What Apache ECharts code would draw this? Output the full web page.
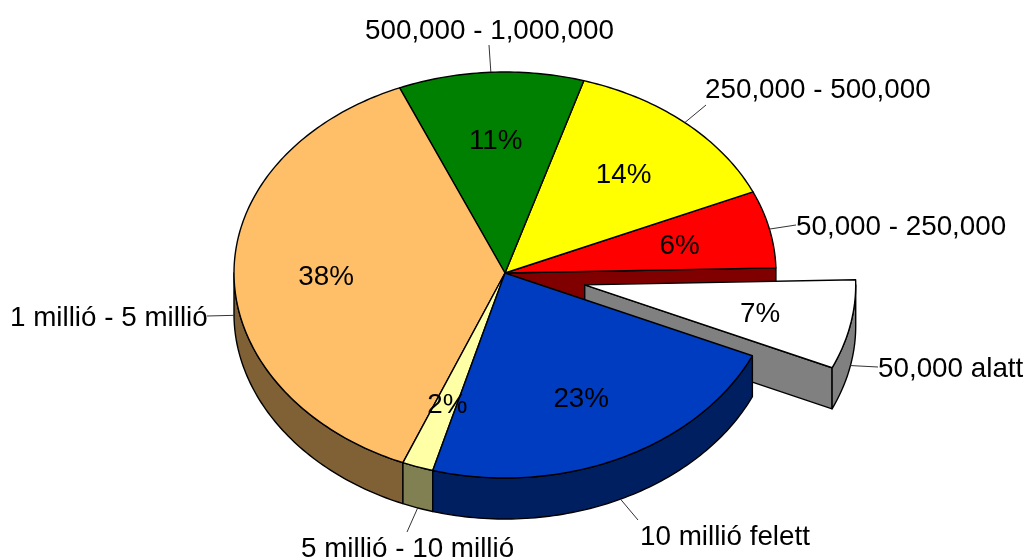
<!DOCTYPE html>
<html>
<head>
<meta charset="utf-8">
<title>Pie</title>
<style>
    html, body { margin: 0; padding: 0; background: #fff; }
    #pieChart { width: 1027px; height: 558px; }
</style>
<script src="https://cdn.jsdelivr.net/npm/echarts@6/dist/echarts.min.js"></script>
</head>
<body>
<div id="pieChart"></div>
<script>
// slices run counter-clockwise, first one is pulled out
let categories = ['50,000 alatt', '50,000 - 250,000', '250,000 - 500,000', '500,000 - 1,000,000', '1 millió - 5 millió', '5 millió - 10 millió', '10 millió felett'];
let shares = [7.1, 6.2, 13.7, 11.05, 37.5, 1.85, 22.6];
let topColors = ['#ffffff', '#ff0000', '#ffff00', '#008000', '#ffbf69', '#ffffa6', '#003cbf'];
let sideColors = ['#808080', '#800000', '#808000', '#004000', '#806035', '#808053', '#001f60'];

// layout only: label position [left, middle] and where the leader line stops
let labelPos = [[878, 369], [796, 227], [705, 90], [365, 31], [10, 318], [301, 549], [640, 537]];
let leaderEnd = [[878, 367], [796, 225], [706, 105], [489, 45], [207, 316], [407, 532], [638, 520]];

let startAngle = -24.1;
let explodedIndex = 0;
let explodeBy = 0.3;
let depth = 0.204;
let nearBulge = 0.02;
let labelRadius = 0.66;
let fontCss = '27.8px "Liberation Sans", Arial, sans-serif';

let angles = [];
let total = shares.reduce(function (a, b) { return a + b; }, 0);
let acc = startAngle;
shares.forEach(function (v) {
    let next = acc + v / total * 360;
    angles.push([acc, next]);
    acc = next;
});

function rad(deg) {
    return deg * Math.PI / 180;
}

function renderSlice(params, api) {
    let i = params.dataIndex;
    let from = angles[i][0];
    let to = angles[i][1];
    let mid = (from + to) / 2;
    let ox = i === explodedIndex ? explodeBy * Math.cos(rad(mid)) : 0;
    let oy = i === explodedIndex ? explodeBy * Math.sin(rad(mid)) : 0;

    function point(deg, r, drop) {
        let y = oy + r * Math.sin(rad(deg));
        // near half of the disc looks a little bigger
        if (y < 0) {
            y = y * (1 - nearBulge * y);
        }
        return api.coord([ox + r * Math.cos(rad(deg)), y - (drop || 0)]);
    }
    function arc(a, b, drop) {
        let pts = [];
        let steps = Math.max(2, Math.ceil(Math.abs(b - a)));
        for (let s = 0; s <= steps; s++) {
            pts.push(point(a + (b - a) * s / steps, 1, drop));
        }
        return pts;
    }
    function face(points, fill, z2) {
        return {
            type: 'polygon',
            z2: z2,
            shape: { points: points },
            style: { fill: fill, stroke: '#000', lineWidth: 1.4, lineJoin: 'round' }
        };
    }
    function radialFace(deg, fill, z2) {
        return face([point(deg, 0), point(deg, 1), point(deg, 1, depth), point(deg, 0, depth)], fill, z2);
    }

    let isOut = i === explodedIndex;
    let children = [];

    // the cut the pulled slice leaves behind
    if (i === (explodedIndex + 1) % shares.length) {
        children.push(radialFace(from, sideColors[i], 1));
    }
    if (isOut) {
        children.push(radialFace(from, sideColors[i], 2));
    }

    // outer wall, only the part that faces the viewer
    [[-180, 0], [180, 360]].forEach(function (range) {
        let a = Math.max(from, range[0]);
        let b = Math.min(to, range[1]);
        if (a < b) {
            children.push(face(arc(a, b, 0).concat(arc(b, a, depth)), sideColors[i], isOut ? 2 : 4));
        }
    });

    children.push(face([point(from, 0)].concat(arc(from, to, 0)), topColors[i], isOut ? 3 : 5));

    // leader line starts on the rim, at the bottom of the wall on the lower half
    let rim = point(mid, 1, Math.sin(rad(mid)) < 0.01 ? depth : 0);
    children.push({
        type: 'line',
        z2: 6,
        shape: { x1: rim[0], y1: rim[1], x2: leaderEnd[i][0], y2: leaderEnd[i][1] },
        style: { stroke: '#333', lineWidth: 1 }
    });

    let inner = point(mid, labelRadius, 0.015 - 0.01 * Math.sin(rad(mid)));
    children.push({
        type: 'text',
        z2: 7,
        style: { text: Math.round(shares[i]) + '%', x: inner[0], y: inner[1], font: fontCss, fill: '#000', align: 'center', verticalAlign: 'middle' }
    });
    children.push({
        type: 'text',
        z2: 7,
        style: { text: categories[i], x: labelPos[i][0], y: labelPos[i][1], font: fontCss, fill: '#000', align: 'left', verticalAlign: 'middle' }
    });

    return { type: 'group', children: children };
}

let pieOption = {
    animation: false,
    backgroundColor: '#fff',
    grid: { left: 234, top: 72, width: 542, height: 402 },
    xAxis: { type: 'value', min: -1, max: 1, show: false },
    yAxis: { type: 'value', min: -1, max: 1, show: false },
    series: [
        {
            type: 'custom',
            coordinateSystem: 'cartesian2d',
            clip: false,
            silent: true,
            data: shares,
            encode: { x: 0, y: 0 },
            renderItem: renderSlice
        }
    ]
};
let pieChart = echarts.init(document.getElementById('pieChart'));
pieChart.setOption(pieOption);
</script>
</body>
</html>
